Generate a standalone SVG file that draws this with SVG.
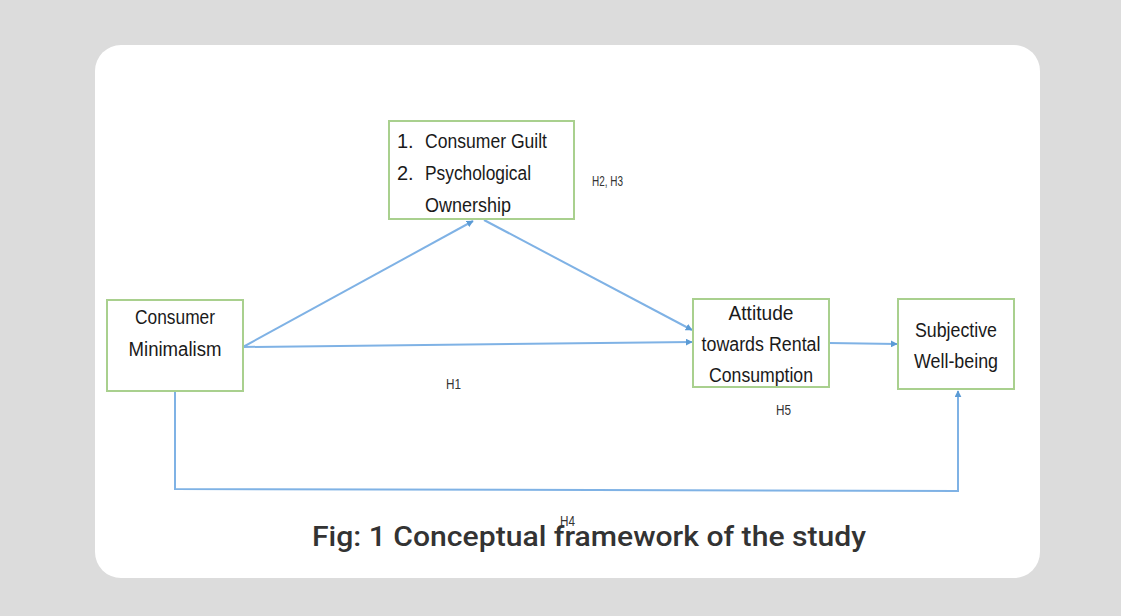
<svg xmlns="http://www.w3.org/2000/svg" width="1121" height="616" viewBox="0 0 1121 616">
<defs>
<marker id="arr" viewBox="0 0 10 10" refX="9" refY="5" markerWidth="7" markerHeight="7" orient="auto" markerUnits="userSpaceOnUse">
<path d="M0,0 L10,5 L0,10 z" fill="#5b9bd5"/>
</marker>
<style>
.box{fill:#ffffff;stroke:#a9d08e;stroke-width:2}
.t{font-family:"Liberation Sans","DejaVu Sans",sans-serif;font-size:20px;fill:#1a1a1a}
.c{text-anchor:middle}
.h{font-family:"Liberation Sans","DejaVu Sans",sans-serif;font-size:14px;fill:#333}
.ln{fill:none;stroke:#7fb2e5;stroke-width:2}
</style>
</defs>
<rect x="0" y="0" width="1121" height="616" fill="#dcdcdc"/>
<rect x="95" y="45" width="945" height="533" rx="26" ry="26" fill="#ffffff"/>

<g id="connectors">
<line class="ln" x1="243" y1="347" x2="473" y2="221" marker-end="url(#arr)"/>
<line class="ln" x1="484" y1="220" x2="692" y2="330" marker-end="url(#arr)"/>
<line class="ln" x1="243" y1="347" x2="692" y2="342" marker-end="url(#arr)"/>
<line class="ln" x1="829" y1="343" x2="897" y2="344" marker-end="url(#arr)"/>
<polyline class="ln" points="175,391 175,489 958,491 958,391" marker-end="url(#arr)"/>
</g>

<g id="node-minimalism">
<rect class="box" x="107" y="300" width="136" height="91"/>
<text class="t c" x="175" y="324" textLength="80" lengthAdjust="spacingAndGlyphs">Consumer</text>
<text class="t c" x="175" y="356" textLength="93" lengthAdjust="spacingAndGlyphs">Minimalism</text>
</g>

<g id="node-guilt">
<rect class="box" x="389" y="121" width="185" height="98"/>
<text class="t" x="397" y="148">1.</text>
<text class="t" x="425" y="148" textLength="122" lengthAdjust="spacingAndGlyphs">Consumer Guilt</text>
<text class="t" x="397" y="180">2.</text>
<text class="t" x="425" y="180" textLength="106" lengthAdjust="spacingAndGlyphs">Psychological</text>
<text class="t" x="425" y="212" textLength="86" lengthAdjust="spacingAndGlyphs">Ownership</text>
</g>

<g id="node-attitude">
<rect class="box" x="693" y="299" width="136" height="88"/>
<text class="t c" x="761" y="320" textLength="65" lengthAdjust="spacingAndGlyphs">Attitude</text>
<text class="t c" x="761" y="351" textLength="119" lengthAdjust="spacingAndGlyphs">towards Rental</text>
<text class="t c" x="761" y="382" textLength="104" lengthAdjust="spacingAndGlyphs">Consumption</text>
</g>

<g id="node-wellbeing">
<rect class="box" x="898" y="299" width="116" height="90"/>
<text class="t c" x="956" y="337" textLength="82" lengthAdjust="spacingAndGlyphs">Subjective</text>
<text class="t c" x="956" y="368" textLength="84" lengthAdjust="spacingAndGlyphs">Well-being</text>
</g>

<g id="labels">
<text class="h" x="592" y="186" textLength="31" lengthAdjust="spacingAndGlyphs">H2, H3</text>
<text class="h" x="446" y="389" textLength="15" lengthAdjust="spacingAndGlyphs">H1</text>
<text class="h" x="776" y="415" textLength="15" lengthAdjust="spacingAndGlyphs">H5</text>
<text class="h" x="560" y="526" textLength="15" lengthAdjust="spacingAndGlyphs" fill="#555">H4</text>
</g>

<text x="312" y="546" font-family="Roboto,'Liberation Sans',sans-serif" font-size="28" font-weight="500" fill="#333" textLength="554" lengthAdjust="spacingAndGlyphs">Fig: 1 Conceptual framework of the study</text>
</svg>
